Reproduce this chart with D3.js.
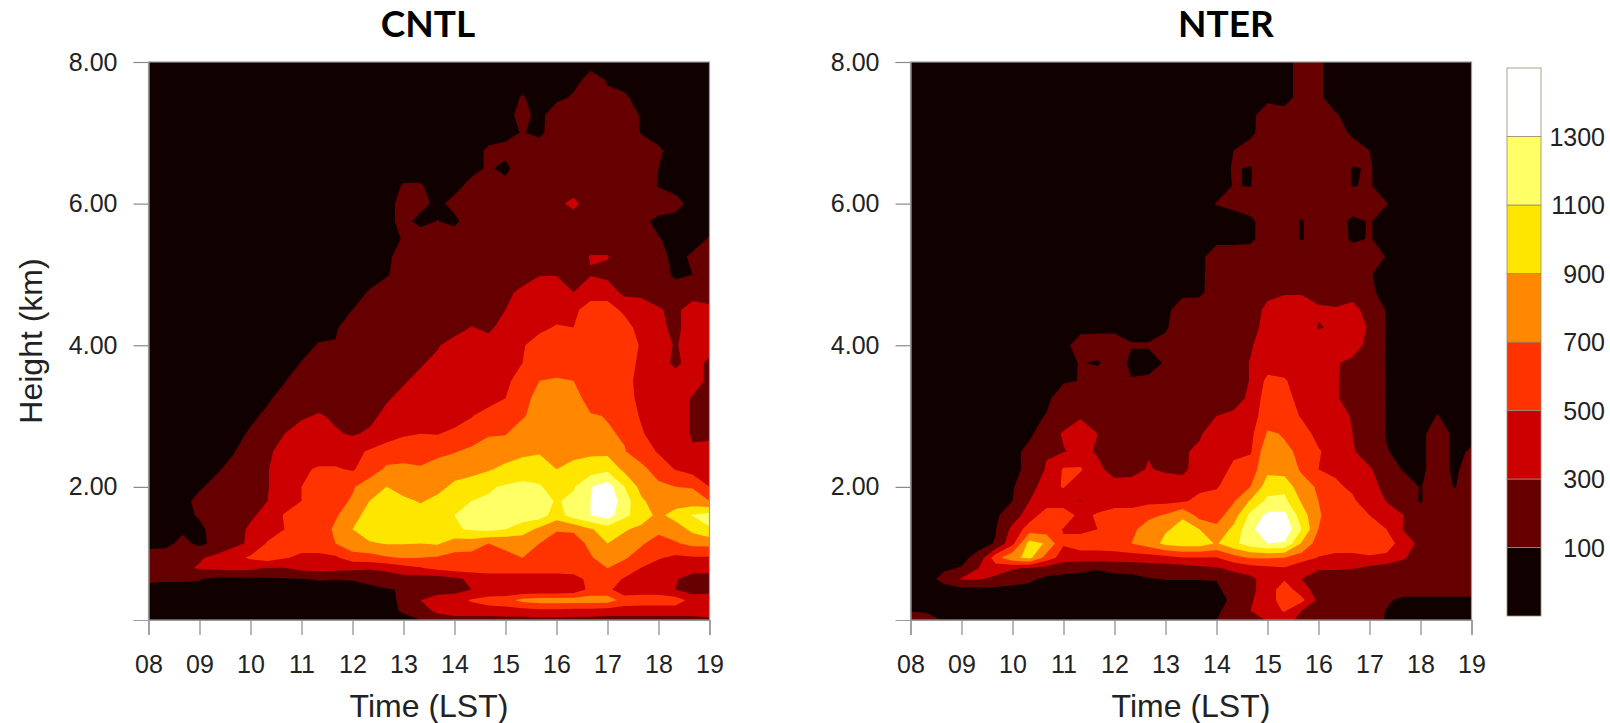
<!DOCTYPE html>
<html>
<head>
<meta charset="utf-8">
<title>CNTL / NTER</title>
<script src="https://cdn.jsdelivr.net/npm/d3@7"></script>
<style>
  html, body { margin: 0; padding: 0; background: #fff; }
  svg { display: block; }
  text { font-family: "Liberation Sans", sans-serif; fill: #222; }
  .title { font-family: Lato, sans-serif; font-weight: 700; font-size: 37px; fill: #000; }
</style>
</head>
<body>
<svg width="1610" height="723"></svg>
<script>
// hours along the x axis, one column per 20 minutes
const timeStart = 8;
const timeEnd = 19;
const timeLabels = ['08', '09', '10', '11', '12', '13', '14', '15', '16', '17', '18', '19'];
const heightLabels = ['2.00', '4.00', '6.00', '8.00'];
// grid rows, top of the plot first (km)
const heights = [8, 7.75, 7.5, 7.25, 7, 6.75, 6.5, 6.25, 6, 5.75, 5.5, 5.25, 5, 4.75, 4.5, 4.25, 4, 3.75,
  3.5, 3.25, 3, 2.75, 2.5, 2.25, 2, 1.8, 1.6, 1.4, 1.2, 1, 0.85, 0.7, 0.55, 0.4, 0.25, 0.1];
const levels = [100, 300, 500, 700, 900, 1100, 1300];
const colors = ['#100000', '#660000', '#cc0000', '#ff3300', '#ff8800', '#ffe600', '#ffff66', '#ffffff'];

const cntlValues = [
  [50,50,50,50,50,50,50,50,50,50,50,50,50,50,50,50,50,50,50,50,50,50,50,50,50,50,50,50,50,50,50,50,50,50],
  [50,50,50,50,50,50,50,50,50,50,50,50,50,50,50,50,50,50,50,50,50,50,50,50,50,50,150,90,50,50,50,50,50,50],
  [50,50,50,50,50,50,50,50,50,50,50,50,50,50,50,50,50,50,50,50,50,50,110,50,60,120,150,120,120,50,50,50,50,50],
  [50,50,50,50,50,50,50,50,50,50,50,50,50,50,50,50,50,50,50,50,50,50,150,50,200,200,200,200,200,80,50,50,50,50],
  [50,50,50,50,50,50,50,50,50,50,50,50,50,50,50,50,50,50,50,50,50,50,110,60,200,200,200,200,200,90,50,50,50,50],
  [50,50,50,50,50,50,50,50,50,50,50,50,50,50,50,50,50,50,50,50,120,150,200,200,200,200,200,200,200,200,120,50,50,50],
  [50,50,50,50,50,50,50,50,50,50,50,50,50,50,50,50,50,50,50,50,120,60,200,200,200,200,200,200,200,200,100,50,50,50],
  [50,50,50,50,50,50,50,50,50,50,50,50,50,50,50,110,110,60,50,150,150,150,200,200,200,200,200,200,200,200,90,50,50,50],
  [50,50,50,50,50,50,50,50,50,50,50,50,50,50,50,150,150,60,150,200,200,200,200,200,250,350,200,200,200,200,200,150,50,50],
  [50,50,50,50,50,50,50,50,50,50,50,50,50,50,50,150,50,105,60,200,120,200,200,200,200,200,200,200,200,150,50,50,50,50],
  [50,50,50,50,50,50,50,50,50,50,50,50,50,50,50,110,200,200,200,200,200,200,200,200,200,200,200,200,200,200,110,50,50,110],
  [50,50,50,50,50,50,50,50,50,50,50,50,50,50,50,200,200,200,200,200,200,200,200,200,200,200,310,310,200,200,150,60,120,200],
  [50,50,50,50,50,50,50,50,50,50,50,50,50,50,80,200,200,200,200,200,200,200,200,290,290,200,290,250,200,200,200,60,100,200],
  [50,50,50,50,50,50,50,50,50,50,50,50,50,110,200,200,200,200,200,200,200,250,350,400,400,300,400,400,250,250,200,200,200,200],
  [50,50,50,50,50,50,50,50,50,50,50,50,100,200,200,200,200,200,200,200,200,300,400,400,400,450,600,600,450,400,320,250,400,350],
  [50,50,50,50,50,50,50,50,50,50,50,80,200,200,200,200,200,200,200,310,250,400,400,450,520,500,600,600,600,400,350,250,400,400],
  [50,50,50,50,50,50,50,50,50,50,110,110,200,200,200,200,200,280,400,400,400,400,480,600,600,600,600,600,600,480,400,280,400,400],
  [50,50,50,50,50,50,50,50,50,105,200,200,200,200,200,200,280,350,400,320,400,400,500,600,600,600,600,600,600,450,400,250,400,250],
  [50,50,50,50,50,50,50,50,90,200,200,200,200,200,200,280,350,400,400,400,400,450,600,700,720,700,600,600,600,400,400,400,400,250],
  [50,50,50,50,50,50,50,80,150,200,200,200,200,200,280,350,400,400,400,400,400,500,600,800,800,800,600,600,600,430,400,400,280,250],
  [50,50,50,50,50,50,70,130,200,270,320,270,220,250,350,400,400,400,400,490,600,600,680,780,800,800,720,690,600,480,400,400,280,280],
  [50,50,50,50,50,50,120,200,300,400,400,320,280,330,400,480,500,490,550,600,680,690,800,800,800,800,730,720,680,520,400,400,280,280],
  [50,50,50,50,50,90,200,250,400,400,400,400,450,520,600,600,620,650,690,740,800,800,850,880,870,800,860,850,710,600,480,400,320,330],
  [50,50,50,50,80,150,200,290,400,470,520,520,480,600,730,750,720,780,800,830,880,950,1000,1000,900,1000,1000,1050,850,750,620,490,420,400],
  [50,50,50,80,150,200,200,290,400,500,600,600,680,800,900,800,800,830,950,1000,1080,1120,1150,1120,1000,1080,1290,1400,1100,830,740,700,690,500],
  [50,50,50,150,200,200,250,300,380,500,600,640,720,900,1000,950,880,960,1060,1100,1120,1150,1200,1200,1080,1150,1300,1450,1200,930,800,800,780,700],
  [50,50,50,120,200,200,280,340,520,600,600,680,800,1000,1000,1000,1000,1050,1100,1200,1200,1300,1200,1200,1000,1200,1300,1400,1150,1000,850,980,1110,1180],
  [50,50,70,60,180,250,320,400,500,580,600,730,900,1000,1000,1000,1000,1000,1080,1120,1150,1100,1000,850,720,730,880,1000,920,850,750,800,950,1080],
  [50,50,150,60,150,250,330,520,600,600,600,700,840,880,910,910,900,920,800,800,700,720,760,700,600,600,750,900,820,720,620,680,750,760],
  [180,200,200,280,350,430,530,600,520,450,450,470,600,620,680,710,700,680,640,620,620,680,700,620,600,600,680,800,720,620,520,460,480,480],
  [220,240,260,320,340,350,340,280,290,350,370,360,340,320,350,420,480,550,600,600,600,600,600,600,600,600,600,700,620,490,400,400,400,400],
  [130,120,120,110,60,60,70,80,85,95,110,105,110,150,200,220,200,200,250,350,400,400,400,400,400,420,560,600,480,400,400,320,200,200],
  [50,50,50,50,50,50,50,50,50,50,50,50,50,60,90,110,200,200,220,300,320,320,320,320,320,350,560,560,350,400,400,300,200,200],
  [50,50,50,50,50,50,50,50,50,50,50,50,50,50,60,130,300,400,420,520,600,620,760,800,800,800,800,800,620,600,600,600,430,450],
  [50,50,50,50,50,50,50,50,50,50,50,50,50,50,50,120,200,350,400,400,400,420,420,450,450,430,430,400,400,400,400,400,400,480],
  [50,50,50,50,50,50,50,50,50,50,50,60,50,50,50,50,80,150,200,200,200,200,200,200,200,200,200,200,200,200,200,200,200,200]
];

const nterValues = [
  [50,50,50,50,50,50,50,50,50,50,50,50,50,50,50,50,50,50,50,50,50,50,50,150,120,50,50,50,50,50,50,50,50,50],
  [50,50,50,50,50,50,50,50,50,50,50,50,50,50,50,50,50,50,50,50,50,50,50,150,120,50,50,50,50,50,50,50,50,50],
  [50,50,50,50,50,50,50,50,50,50,50,50,50,50,50,50,50,50,50,50,50,50,50,150,120,50,50,50,50,50,50,50,50,50],
  [50,50,50,50,50,50,50,50,50,50,50,50,50,50,50,50,50,50,50,50,50,200,150,200,200,110,60,50,50,50,50,50,50,50],
  [50,50,50,50,50,50,50,50,50,50,50,50,50,50,50,50,50,50,50,50,60,200,200,200,200,200,60,50,50,50,50,50,50,50],
  [50,50,50,50,50,50,50,50,50,50,50,50,50,50,50,50,50,50,50,100,180,200,200,200,200,200,200,100,50,50,50,50,50,50],
  [50,50,50,50,50,50,50,50,50,50,50,50,50,50,50,50,50,50,50,110,90,200,200,200,200,200,90,110,50,50,50,50,50,50],
  [50,50,50,50,50,50,50,50,50,50,50,50,50,50,50,50,50,50,50,105,95,200,200,200,200,200,95,110,50,50,50,50,50,50],
  [50,50,50,50,50,50,50,50,50,50,50,50,50,50,50,50,50,50,105,130,200,200,200,200,200,200,200,200,105,50,50,50,50,50],
  [50,50,50,50,50,50,50,50,50,50,50,50,50,50,50,50,50,50,50,50,60,200,200,85,200,200,60,110,50,50,50,50,50,50],
  [50,50,50,50,50,50,50,50,50,50,50,50,50,50,50,50,50,50,50,50,60,200,200,85,200,200,70,110,50,50,50,50,50,50],
  [50,50,50,50,50,50,50,50,50,50,50,50,50,50,50,50,50,50,200,200,200,200,200,200,200,200,200,200,90,50,50,50,50,50],
  [50,50,50,50,50,50,50,50,50,50,50,50,50,50,50,50,50,50,200,200,200,200,200,200,200,200,200,110,50,50,50,50,50,50],
  [50,50,50,50,50,50,50,50,50,50,50,50,50,50,50,50,50,60,200,200,200,250,280,280,250,200,200,130,50,50,50,50,50,50],
  [50,50,50,50,50,50,50,50,50,50,50,50,50,50,50,50,200,200,200,200,200,350,400,400,320,320,380,200,90,50,50,50,50,50],
  [50,50,50,50,50,50,50,50,50,50,50,50,50,50,50,80,200,200,200,200,200,400,400,400,290,320,400,280,90,50,50,50,50,50],
  [50,50,50,50,50,50,50,50,50,50,180,200,200,110,110,150,200,200,200,200,280,400,400,400,400,400,400,230,90,50,50,50,50,50],
  [50,50,50,50,50,50,50,50,50,50,110,80,200,60,60,110,200,200,200,200,310,400,400,400,400,320,250,200,90,50,50,50,50,50],
  [50,50,50,50,50,50,50,50,50,80,105,200,200,110,120,150,200,200,200,200,310,550,520,400,400,310,260,200,95,50,50,50,50,50],
  [50,50,50,50,50,50,50,50,60,200,200,200,200,200,200,200,200,200,200,200,350,600,600,400,400,320,220,200,90,50,50,50,50,50],
  [50,50,50,50,50,50,50,50,110,200,280,270,200,200,200,200,200,200,300,350,400,620,620,480,480,400,280,200,95,50,50,105,60,50],
  [50,50,50,50,50,50,50,70,200,320,400,300,200,200,200,200,200,280,400,400,450,720,690,600,430,400,300,200,90,50,50,200,60,50],
  [50,50,50,50,50,50,50,150,280,290,350,280,280,280,280,290,280,330,400,480,480,850,720,680,520,400,320,200,110,50,50,200,60,120],
  [50,50,50,50,50,50,50,150,320,520,520,350,220,220,320,250,250,400,450,520,600,850,800,680,500,480,400,320,200,85,50,200,60,200],
  [50,50,50,50,50,50,90,180,450,510,400,380,380,400,480,480,400,450,480,620,700,1000,1050,760,680,520,480,400,220,200,90,200,90,200],
  [50,50,50,50,50,50,100,300,400,400,290,400,400,400,450,450,470,560,600,680,920,1150,1150,880,700,600,520,430,290,200,85,200,200,200],
  [50,50,50,50,50,70,200,400,600,600,450,520,600,600,650,720,880,620,620,800,1150,1350,1350,1000,720,600,600,500,400,300,200,200,200,200],
  [50,50,50,50,50,90,350,600,600,490,450,500,620,650,800,880,950,900,750,950,1250,1450,1450,1100,700,600,600,620,500,290,200,200,200,200],
  [50,50,50,50,50,110,450,980,880,520,600,600,620,700,800,950,1000,1000,880,1050,1200,1300,1280,880,600,600,600,600,600,400,250,200,200,200],
  [50,50,50,60,150,620,850,950,620,400,400,400,400,400,400,430,490,490,490,620,720,720,700,600,490,450,450,480,450,320,200,200,200,200],
  [50,50,80,110,300,400,320,280,220,150,130,110,140,150,200,200,200,250,280,350,410,450,480,350,320,320,310,250,200,200,200,200,200,200],
  [50,50,150,320,320,250,180,130,60,60,60,50,60,60,90,105,105,105,110,200,250,400,480,300,200,200,200,200,200,200,200,200,200,200],
  [50,50,50,50,50,50,50,50,50,50,50,50,50,50,50,50,50,50,60,200,250,400,600,400,200,200,200,200,200,200,200,200,200,200],
  [50,50,50,50,50,50,50,50,50,50,50,50,50,50,50,50,50,50,50,130,280,400,600,560,250,200,200,200,130,50,50,50,50,50],
  [90,70,50,50,50,50,50,50,50,50,50,50,50,50,50,50,50,50,60,200,300,400,520,300,200,200,200,200,90,50,50,50,50,50],
  [220,200,90,50,50,50,50,50,50,50,50,50,50,50,50,50,50,50,105,200,250,300,350,250,200,200,200,200,80,50,50,50,50,50]
];

const svg = d3.select('svg');
const plotTop = 62;
const plotBottom = 620;
const plotWidth = 561;

const yScale = d3.scaleLinear().domain([0.12, 8]).range([plotBottom, plotTop]);
const columnCount = cntlValues[0].length;
// grid index -> km, rows are not evenly spaced
const rowToHeight = d3.scaleLinear().domain(heights.map((d, i) => i)).range(heights);

/**
 * Draws one filled contour panel
 * @param {string} id clip id
 * @param {string} name panel title
 * @param {number} left left edge of the plot
 * @param {number} titleX centre of the panel title
 * @param {Array} rows grid of values, top row first
 */
function drawPanel(id, name, left, titleX, rows) {
  const xScale = d3.scaleLinear()
      .domain([timeStart, timeEnd])
      .range([left, left + plotWidth]);
  const columnToTime = d3.scaleLinear()
      .domain([0, columnCount - 1])
      .range([timeStart, timeEnd]);

  const project = d3.geoTransform({
    point: function(x, y) {
      this.stream.point(xScale(columnToTime(x - 0.5)), yScale(rowToHeight(y - 0.5)));
    },
  });
  const path = d3.geoPath(project);

  const contours = d3.contours()
      .size([columnCount, rows.length])
      .thresholds(levels)(rows.flat());

  svg.append('clipPath')
      .attr('id', id)
      .append('rect')
      .attr('x', left)
      .attr('y', plotTop)
      .attr('width', plotWidth)
      .attr('height', plotBottom - plotTop);

  const g = svg.append('g').attr('clip-path', `url(#${id})`);
  g.append('rect')
      .attr('x', left)
      .attr('y', plotTop)
      .attr('width', plotWidth)
      .attr('height', plotBottom - plotTop)
      .attr('fill', colors[0]);
  g.selectAll('path')
      .data(contours)
      .enter()
      .append('path')
      .attr('d', path)
      .attr('fill', (d, i) => colors[i + 1]);

  // axes
  const xAxis = d3.axisBottom(xScale)
      .tickValues(timeLabels.map(Number))
      .tickFormat((d) => d3.format('02')(d))
      .tickSize(15)
      .tickPadding(20);
  const yAxis = d3.axisLeft(yScale)
      .tickValues(heightLabels.map(Number))
      .tickFormat(d3.format('.2f'))
      .tickSize(15)
      .tickPadding(16);

  const xG = svg.append('g')
      .attr('transform', `translate(0,${plotBottom})`)
      .call(xAxis);
  const yG = svg.append('g')
      .attr('transform', `translate(${left},0)`)
      .call(yAxis);
  [xG, yG].forEach((a) => {
    a.selectAll('text').style('font-size', '25px')
        .style('font-family', '"Liberation Sans", sans-serif').style('fill', '#222');
    a.selectAll('line').attr('stroke', '#8a8a8a').attr('stroke-width', 1.2);
    a.select('.domain').attr('stroke', '#9a9a9a').attr('stroke-width', 1.2);
  });

  svg.append('rect')
      .attr('x', left)
      .attr('y', plotTop)
      .attr('width', plotWidth)
      .attr('height', plotBottom - plotTop)
      .attr('fill', 'none')
      .attr('stroke', '#9a9a9a')
      .attr('stroke-width', 1.2);

  svg.append('text')
      .attr('class', 'title')
      .attr('x', titleX)
      .attr('y', 37)
      .attr('text-anchor', 'middle')
      .text(name);

  svg.append('text')
      .attr('x', left + plotWidth / 2)
      .attr('y', 717)
      .attr('text-anchor', 'middle')
      .style('font-size', '32px')
      .text('Time (LST)');
}

drawPanel('clipCntl', 'CNTL', 148.5, 428, cntlValues);
drawPanel('clipNter', 'NTER', 910.5, 1226, nterValues);

svg.append('text')
    .attr('transform', 'translate(42,341) rotate(-90)')
    .attr('text-anchor', 'middle')
    .style('font-size', '32px')
    .text('Height (km)');

// colour bar
const barScale = d3.scaleLinear().domain([0, colors.length]).range([616, 68]);
svg.append('g')
    .selectAll('rect')
    .data(colors)
    .enter()
    .append('rect')
    .attr('x', 1507)
    .attr('y', (d, i) => barScale(i + 1))
    .attr('width', 34)
    .attr('height', (d, i) => barScale(i) - barScale(i + 1))
    .attr('fill', (d) => d)
    .attr('stroke', '#9a8a70')
    .attr('stroke-width', 0.8);

svg.append('g')
    .selectAll('text')
    .data(levels)
    .enter()
    .append('text')
    .attr('x', 1605)
    .attr('y', (d, i) => barScale(i + 1) + 9)
    .attr('text-anchor', 'end')
    .style('font-size', '25px')
    .text((d) => d);
</script>
</body>
</html>
